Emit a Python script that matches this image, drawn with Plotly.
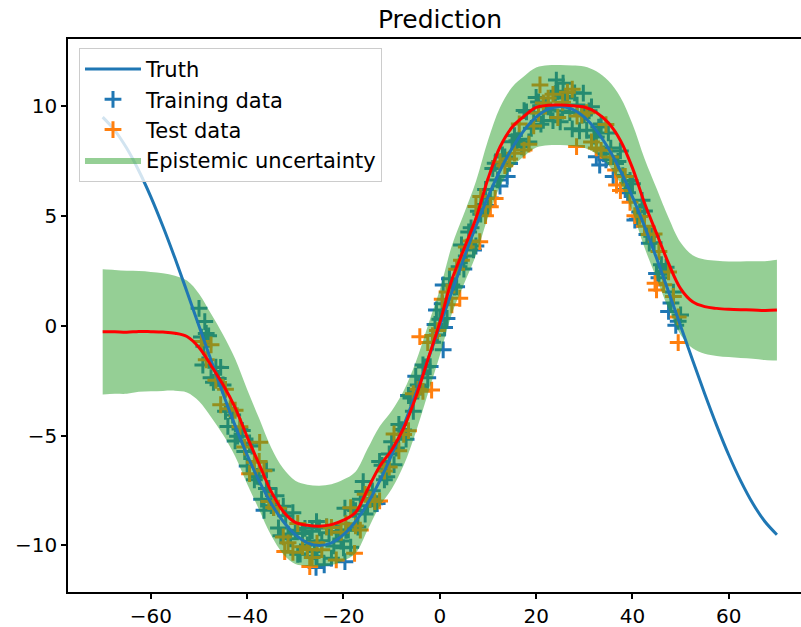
import plotly.graph_objects as go

# ---------------- data ----------------
truth_x = [-70, -67.5, -65, -62.5, -60, -57.5, -55, -52.5, -50, -47.5, -45, -42.5, -40, -37.5,
           -35, -32.5, -30, -27.5, -25, -22.5, -20, -17.5, -15, -12.5, -10, -7.5, -5, -2.5,
           0, 2.5, 5, 7.5, 10, 12.5, 15, 17.5, 20, 22.5, 25, 27.5, 30, 32.5, 35, 37.5,
           40, 42.5, 45, 47.5, 50, 52.5, 55, 57.5, 60, 62.5, 65, 67.5, 70]
truth_y = [9.51, 8.91, 8.09, 7.07, 5.88, 4.54, 3.09, 1.56, 0.0, -1.56, -3.09, -4.54, -5.88, -7.07,
           -8.09, -8.91, -9.51, -9.88, -10.0, -9.88, -9.51, -8.91, -8.09, -7.07, -5.88, -4.54, -3.09, -1.56,
           0.0, 1.56, 3.09, 4.54, 5.88, 7.07, 8.09, 8.91, 9.51, 9.88, 10.0, 9.88, 9.51, 8.91, 8.09, 7.07,
           5.88, 4.54, 3.09, 1.56, 0.0, -1.56, -3.09, -4.54, -5.88, -7.07, -8.09, -8.91, -9.51]

pred_x = truth_x
pred_mean = [-0.27, -0.27, -0.29, -0.25, -0.26, -0.28, -0.33, -0.48, -0.98, -1.80, -2.68, -3.72, -5.05, -6.30,
             -7.55, -8.45, -8.95, -9.08, -9.12, -9.05, -8.85, -8.50, -7.45, -6.40, -5.65, -4.65, -3.25, -1.55,
             0.15, 2.10, 3.50, 4.90, 6.70, 8.15, 9.05, 9.55, 9.95, 10.05, 10.06, 10.03, 9.97, 9.72, 9.25, 8.45,
             7.20, 5.60, 4.22, 2.85, 1.70, 1.10, 0.88, 0.80, 0.76, 0.74, 0.73, 0.70, 0.72]
pred_halfwidth = [2.85, 2.82, 2.80, 2.75, 2.72, 2.68, 2.62, 2.55, 2.45, 2.35, 2.28, 2.22, 2.15, 2.08,
                  2.00, 1.95, 1.90, 1.85, 1.84, 1.84, 1.85, 1.86, 1.85, 1.82, 1.78, 1.70, 1.60, 1.55,
                  1.50, 1.55, 1.60, 1.68, 1.75, 1.80, 1.82, 1.82, 1.82, 1.82, 1.82, 1.83, 1.85, 1.88, 1.92, 1.97,
                  2.00, 2.03, 2.05, 2.08, 2.10, 2.12, 2.15, 2.17, 2.18, 2.20, 2.22, 2.25, 2.30]

train_x_a = [-50, -49, -48, -47, -46, -45, -44, -43, -42, -41, -40, -39, -38, -37, -36, -35, -34, -33, -32, -31,
             -30, -29, -28, -27, -26, -25, -24, -23, -22, -21, -20, -19, -18, -17, -16, -15, -14, -13, -12, -11,
             -10, -9, -8, -7, -6, -5, -4, -3, -2, -1, 0, 1, 2, 3, 4, 5, 6, 7, 8, 9,
             10, 11, 12, 13, 14, 15, 16, 17, 18, 19, 20, 21, 22, 23, 24, 25, 26, 27, 28, 29,
             30, 31, 32, 33, 34, 35, 36, 37, 38, 39, 40, 41, 42, 43, 44, 45, 46, 47, 48, 49, 50,
             -48.8, -49.2, -36.0, -25.6, -19.7, -15.9, -19.7, -25.7, 0.7, -0.7, 0.7, 32.5, 24.2, 25.6, 29.8, 33.2]
train_y_a = [0.8, -0.93, -0.45, -2.57, -2.39, -2.69, -4.58, -4.06, -5.02, -4.76, -6.38, -5.47, -6.85, -7.89, -7.41,
             -8.19, -7.74, -9.56, -8.65, -9.70, -9.31, -10.39, -9.22, -9.82, -10.28, -9.2, -10.88, -9.42, -10.02, -9.39,
             -10.11, -9.30, -8.35, -9.16, -7.54, -8.19, -7.51, -8.09, -6.35, -6.87, -5.28, -5.56, -4.72, -5.16, -3.28,
             -2.29, -2.79, -1.87, -1.85, 0.07, 0.3, -0.07, 2.15, 1.77, 2.69, 2.59, 4.28, 3.46, 5.22, 5.46,
             5.48, 7.17, 6.65, 7.79, 6.81, 8.39, 8.44, 8.16, 9.75, 9.00, 10.41, 9.19, 10.02, 9.82, 10.58,
             9.3, 10.38, 9.72, 10.62, 8.89, 9.61, 9.80, 8.65, 9.06, 7.84, 8.79, 6.81, 7.49, 6.85, 6.07,
             6.48, 4.86, 5.72, 4.16, 4.08, 2.39, 2.79, 2.67, 1.05, 0.03, 0.5,
             0.2, -1.78, -6.56, -8.91, -8.3, -7.09, -10.74, -11.0, 1.87, 0.73, -1.09, 7.71, 11.2, 11.06, 10.6, 7.33]

train_x_b = [-49.5, -48.5, -47.5, -46.5, -45.5, -44.5, -43.5, -42.5, -41.5, -40.5, -39.5, -38.5, -37.5, -36.5,
             -35.5, -34.5, -33.5, -32.5, -31.5, -30.5, -29.5, -28.5, -27.5, -26.5, -25.5, -24.5, -23.5, -22.5,
             -21.5, -20.5, -19.5, -18.5, -17.5, -16.5, -15.5, -14.5, -13.5, -12.5, -11.5, -10.5, -9.5, -8.5,
             -7.5, -6.5, -5.5, -4.5, -3.5, -2.5, -1.5, -0.5, 0.5, 1.5, 2.5, 3.5, 4.5, 5.5, 6.5, 7.5, 8.5, 9.5,
             10.5, 11.5, 12.5, 13.5, 14.5, 15.5, 16.5, 17.5, 18.5, 19.5, 20.5, 21.5, 22.5, 23.5, 24.5, 25.5,
             26.5, 27.5, 28.5, 29.5, 30.5, 31.5, 32.5, 33.5, 34.5, 35.5, 36.5, 37.5, 38.5, 39.5, 40.5, 41.5,
             42.5, 43.5, 44.5, 45.5, 46.5, 47.5, 48.5, 49.5]
train_y_b = [-0.51, -0.34, -2.36, -1.88, -1.89, -3.89, -3.87, -5.24, -4.69, -5.72, -5.33, -7.01, -6.87, -8.40,
             -7.40, -8.27, -9.20, -8.21, -9.48, -8.51, -10.40, -9.46, -9.98, -9.35, -10.49, -9.79, -9.15, -10.58,
             -9.36, -9.80, -9.31, -10.08, -8.41, -7.90, -8.57, -7.90, -8.10, -6.17, -7.01, -5.83, -6.32, -4.49,
             -4.74, -3.17, -3.89, -2.69, -1.78, -2.36, -0.74, -0.41, 1.01, 0.34, 1.86, 1.78, 3.69, 3.19, 4.47, 3.64, 5.09, 6.22,
             5.83, 7.41, 6.37, 7.70, 7.40, 8.67, 8.50, 9.81, 8.38, 9.71, 10.20, 9.36, 9.98, 9.35, 10.69, 9.79,
             10.45, 8.98, 10.06, 9.60, 8.91, 9.98, 8.61, 9.20, 7.57, 8.10, 7.40, 7.97, 6.21, 6.63, 4.82, 5.19,
             5.24, 3.77, 3.79, 2.19, 2.48, 0.66, 1.54, 0.21]

test_x_a = [-49.5, -47.5, -45.5, -43.5, -41.5, -39.5, -37.5, -35.5, -33.5, -31.5, -29.5, -27.5, -25.5, -23.5,
            -21.5, -19.5, -17.5, -15.5, -13.5, -11.5, -9.5, -7.5, -5.5, -3.5, -1.5, 0.5, 2.5, 4.5, 6.5, 8.5,
            10.5, 12.5, 14.5, 16.5, 18.5, 20.5, 22.5, 24.5, 26.5, 28.5, 30.5, 32.5, 34.5, 36.5, 38.5, 40.5,
            42.5, 44.5, 46.5, 48.5,
            49.5, 28.4, 20.8, -37.4, -32.2, -17.7, -27.0, -4.15, 4.15, -1.7, 8.3, 45.0, 44.7, 36.7]
test_y_a = [-0.71, -0.86, -3.59, -3.77, -4.59, -6.73, -6.17, -8.00, -8.30, -9.88, -9.00, -10.18, -9.89, -9.15,
            -10.66, -9.01, -9.11, -7.67, -8.00, -6.61, -4.92, -4.94, -3.09, -2.98, -0.44, 1.21, 0.96, 2.99, 3.87, 5.89,
            5.43, 7.47, 7.60, 9.20, 8.28, 9.70, 10.38, 9.49, 10.65, 9.56, 9.71, 8.11, 9.17, 7.10, 6.81, 5.02,
            4.54, 4.19, 1.88, 1.34,
            -0.76, 8.17, 10.98, -5.3, -10.28, -10.36, -10.96, -0.49, 1.26, -2.92, 3.84, 1.64, 1.94, 6.42]

test_x_b = [-48.5, -46.5, -44.5, -42.5, -40.5, -38.5, -36.5, -34.5, -32.5, -30.5, -28.5, -26.5, -24.5, -22.5,
            -20.5, -18.5, -16.5, -14.5, -12.5, -10.5, -8.5, -6.5, -4.5, -2.5, -0.5, 1.5, 3.5, 5.5, 7.5, 9.5,
            11.5, 13.5, 15.5, 17.5, 19.5, 21.5, 23.5, 25.5, 27.5, 29.5, 31.5, 33.5, 35.5, 37.5, 39.5, 41.5,
            43.5, 45.5, 47.5, 49.5]
test_y_b = [-1.54, -2.48, -2.89, -3.84, -5.52, -6.21, -6.60, -8.27, -9.61, -10.31, -10.06, -10.55, -10.19, -9.18,
            -9.40, -8.28, -9.30, -7.90, -7.97, -6.43, -5.69, -4.77, -2.89, -0.76, -0.21, 1.54, 2.58, 3.59, 5.44, 5.02,
            5.81, 7.30, 7.87, 8.01, 9.11, 10.16, 10.55, 10.19, 10.78, 9.60, 8.38, 8.00, 7.70, 6.17, 5.63, 4.99,
            4.17, 3.39, 2.46, 0.41]

x_ticks = [-60, -40, -20, 0, 20, 40, 60]
y_ticks = [-10, -5, 0, 5, 10]

train_x = train_x_a + train_x_b
train_y = train_y_a + train_y_b
test_x = test_x_a + test_x_b
test_y = test_y_a + test_y_b
band_upper = [m + h for m, h in zip(pred_mean, pred_halfwidth)]
band_lower = [m - h for m, h in zip(pred_mean, pred_halfwidth)]

FONT = "DejaVu Sans"
BLUE = "#1f77b4"
ORANGE = "#ff7f0e"

fig = go.Figure()

fig.add_trace(go.Scatter(
    x=train_x, y=train_y, mode="markers", name="Training data", legendrank=2,
    legendgroup="g2",
    marker=dict(symbol="cross-thin", size=12, color=BLUE, line=dict(color=BLUE, width=3)),
))
fig.add_trace(go.Scatter(
    x=test_x, y=test_y, mode="markers", name="Test data", legendrank=3,
    legendgroup="g3",
    marker=dict(symbol="cross-thin", size=12, color=ORANGE, line=dict(color=ORANGE, width=3)),
))
fig.add_trace(go.Scatter(
    x=pred_x, y=band_lower, mode="lines", line=dict(width=0, shape="spline"),
    showlegend=False, hoverinfo="skip",
))
fig.add_trace(go.Scatter(
    x=pred_x, y=band_upper, mode="lines", line=dict(width=0, shape="spline"),
    fill="tonexty", fillcolor="rgba(44,160,44,0.5)", name="Epistemic uncertainty",
    legendrank=4, legendgroup="g4",
))
fig.add_trace(go.Scatter(
    x=truth_x, y=truth_y, mode="lines", name="Truth", legendrank=1, legendgroup="g1",
    line=dict(color=BLUE, width=3, shape="spline"),
))
fig.add_trace(go.Scatter(
    x=pred_x, y=pred_mean, mode="lines", showlegend=False,
    line=dict(color="red", width=3, shape="spline"),
))

axis_common = dict(
    showgrid=False, zeroline=False, showline=True, linecolor="black", linewidth=1.5,
    ticks="outside", ticklen=5, tickwidth=1.5, tickcolor="black",
    tickfont=dict(family=FONT, size=20, color="black"), automargin=False,
)

fig.update_layout(
    width=801, height=627,
    margin=dict(l=68, r=0, t=39, b=35),
    paper_bgcolor="white", plot_bgcolor="white",
    font=dict(family=FONT, size=21, color="black"),
    title=dict(text="Prediction", x=440 / 801, xref="container", xanchor="center",
               y=1 - 19 / 627, yref="container", yanchor="middle",
               font=dict(family=FONT, size=25, color="black")),
    xaxis=dict(range=[-77.2, 75.0], tickvals=x_ticks, mirror=True, **axis_common),
    yaxis=dict(range=[-12.12, 13.07], tickvals=y_ticks, **axis_common),
    legend=dict(x=0.015, y=0.984, xanchor="left", yanchor="top",
                bgcolor="rgba(255,255,255,0.8)", bordercolor="#cccccc", borderwidth=1,
                font=dict(family=FONT, size=21, color="black"),
                itemwidth=56, tracegroupgap=0, traceorder="grouped"),
    showlegend=True,
)

fig.write_html("out.html")
